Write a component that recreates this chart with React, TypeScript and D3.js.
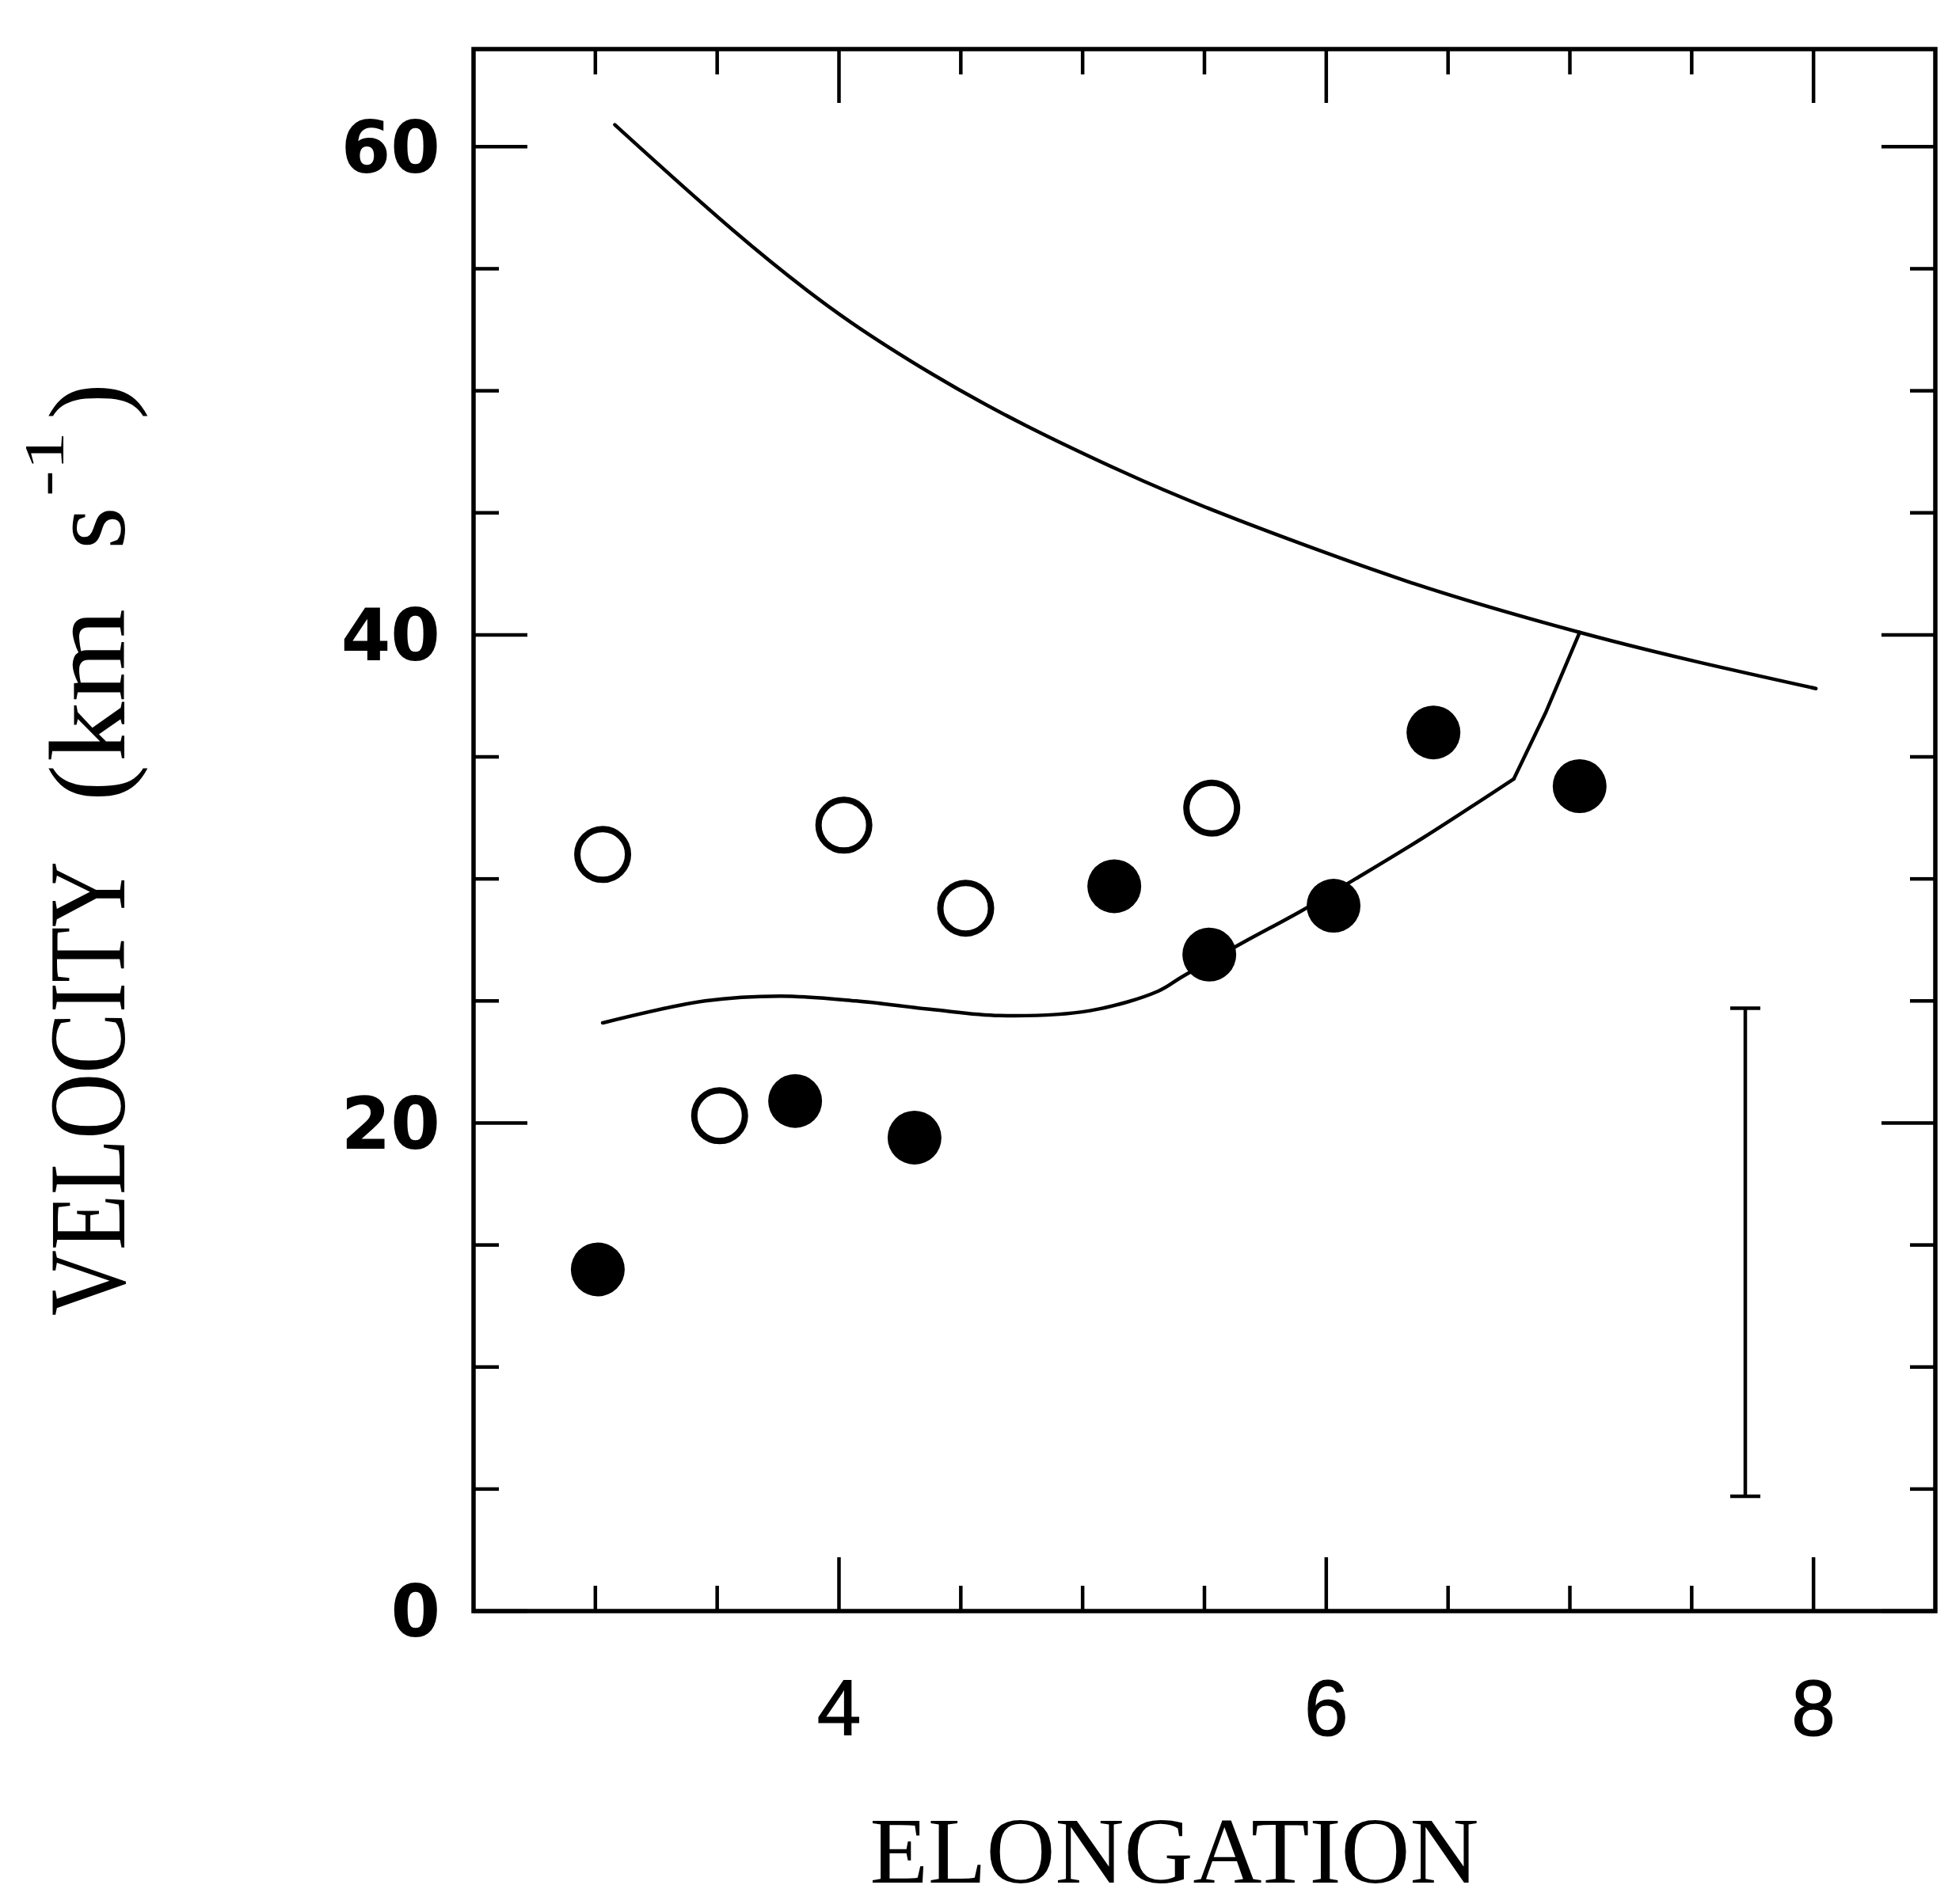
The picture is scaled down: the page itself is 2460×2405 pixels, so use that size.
import * as d3 from 'd3';

// Elongation vs. velocity: open / filled samples, two model curves, error bar.

const WIDTH = 2460;
const HEIGHT = 2405;
const FRAME = { left: 598, right: 2444, top: 62, bottom: 2035 };

const xDomain = [2.5, 8.5];
const yDomain = [0, 64];

const xMajorTicks = [4, 6, 8];
const xMinorTicks = [3, 3.5, 4.5, 5, 5.5, 6.5, 7, 7.5];
const yMajorTicks = [0, 20, 40, 60];
const yMinorTicks = [5, 10, 15, 25, 30, 35, 45, 50, 55];

const openX = [3.03, 4.02, 4.52, 5.53, 3.51];
const openY = [31.0, 32.2, 28.8, 32.9, 20.3];

const filledX = [3.01, 3.82, 4.31, 5.13, 5.52, 6.03, 6.44, 7.04];
const filledY = [14.0, 20.9, 19.4, 29.7, 26.9, 28.9, 36.0, 33.8];

const upperX = [3.08, 4.05, 4.38, 5.16, 5.96, 6.36, 7.04, 8.01];
const upperY = [60.9, 52.8, 50.7, 46.7, 43.5, 42.1, 40.1, 37.8];

const lowerX = [3.03, 3.45, 3.76, 4.07, 4.38, 4.66, 5.03, 5.31, 5.41, 5.66, 5.9, 6.12, 6.4, 6.77];
const lowerY = [24.1, 25.0, 25.2, 25.0, 24.65, 24.4, 24.6, 25.4, 26.0, 27.4, 28.7, 30.0, 31.7, 34.1];

const branchX = [6.77, 6.9, 7.04];
const branchY = [34.1, 36.8, 40.1];

const errX = 7.72;
const errLow = 4.7;
const errHigh = 24.7;

const MAJOR = 68;
const MINOR = 32;

const SERIF = "'Liberation Serif', serif";

export default function App() {
  const x = d3.scaleLinear().domain(xDomain).range([FRAME.left, FRAME.right]);
  const y = d3.scaleLinear().domain(yDomain).range([FRAME.bottom, FRAME.top]);

  const upperPath = d3
    .line<number>()
    .x((d) => x(d))
    .y((_, i) => y(upperY[i]))
    .curve(d3.curveMonotoneX)(upperX);
  const lowerPath = d3
    .line<number>()
    .x((d) => x(d))
    .y((_, i) => y(lowerY[i]))
    .curve(d3.curveCatmullRom.alpha(0.5))(lowerX);
  const branchPath = d3
    .line<number>()
    .x((d) => x(d))
    .y((_, i) => y(branchY[i]))(branchX);

  const x0 = x(xDomain[0]);
  const x1 = x(xDomain[1]);
  const y0 = y(yDomain[0]);
  const y1 = y(yDomain[1]);

  const xTicks = [
    ...xMajorTicks.map((v) => ({ v, len: MAJOR })),
    ...xMinorTicks.map((v) => ({ v, len: MINOR })),
  ];
  const yTicks = [
    ...yMajorTicks.map((v) => ({ v, len: MAJOR })),
    ...yMinorTicks.map((v) => ({ v, len: MINOR })),
  ];

  // rotated title: local x = -pageY, local y = pageX
  const titleBase = 157;

  return (
    <svg
      width={WIDTH}
      height={HEIGHT}
      style={{ position: 'absolute', left: 0, top: 0, background: '#fff' }}
    >
      <rect x={0} y={0} width={WIDTH} height={HEIGHT} fill="#fff" />

      {/* frame */}
      <rect
        x={x0}
        y={y1}
        width={x1 - x0}
        height={y0 - y1}
        fill="none"
        stroke="#000"
        strokeWidth={5.5}
      />

      {/* ticks, inward on all four sides */}
      <g stroke="#000" strokeWidth={4.5}>
        {xTicks.map((t) => (
          <g key={`x${t.v}`}>
            <line x1={x(t.v)} x2={x(t.v)} y1={y0} y2={y0 - t.len} />
            <line x1={x(t.v)} x2={x(t.v)} y1={y1} y2={y1 + t.len} />
          </g>
        ))}
        {yTicks.map((t) => (
          <g key={`y${t.v}`}>
            <line x1={x0} x2={x0 + t.len} y1={y(t.v)} y2={y(t.v)} />
            <line x1={x1} x2={x1 - t.len} y1={y(t.v)} y2={y(t.v)} />
          </g>
        ))}
      </g>

      {/* tick labels */}
      <g fontFamily="'DejaVu Sans', sans-serif" fontWeight="bold" fontSize={90} fill="#000">
        {yMajorTicks.map((v) => (
          <text key={v} x={x0 - 42} y={y(v)} dy="0.36em" textAnchor="end">
            {v}
          </text>
        ))}
      </g>
      <g
        fontFamily="'Liberation Sans', sans-serif"
        fontSize={100}
        fill="#000"
        stroke="#000"
        strokeWidth={1.2}
      >
        {xMajorTicks.map((v) => (
          <text key={v} x={x(v)} y={2192} textAnchor="middle">
            {v}
          </text>
        ))}
      </g>

      {/* axis titles */}
      <text
        x={1483}
        y={2378}
        textAnchor="middle"
        fontFamily={SERIF}
        fontSize={118}
        textLength={769}
        lengthAdjust="spacingAndGlyphs"
        fill="#000"
      >
        ELONGATION
      </text>
      <g transform="rotate(-90)" fontFamily={SERIF} fontSize={138} fill="#000">
        <text x={-1662} y={titleBase} textLength={574} lengthAdjust="spacingAndGlyphs">
          VELOCITY
        </text>
        <text x={-1012} y={titleBase}>
          (
        </text>
        <text x={-962} y={titleBase} textLength={193} lengthAdjust="spacingAndGlyphs">
          km
        </text>
        <text x={-694} y={titleBase}>
          s
        </text>
        <text
          x={-627}
          y={titleBase - 77}
          fontSize={72}
          textLength={82}
          lengthAdjust="spacingAndGlyphs"
        >
          -1
        </text>
        <text x={-530} y={titleBase}>
          )
        </text>
      </g>

      {/* model curves */}
      <g fill="none" stroke="#000" strokeWidth={4.5} strokeLinejoin="round" strokeLinecap="round">
        <path d={upperPath ?? ''} />
        <path d={lowerPath ?? ''} />
        <path d={branchPath ?? ''} />
      </g>

      {/* error bar */}
      <g stroke="#000" strokeWidth={4.5}>
        <line x1={x(errX)} x2={x(errX)} y1={y(errLow)} y2={y(errHigh)} />
        <line x1={x(errX) - 19} x2={x(errX) + 19} y1={y(errLow)} y2={y(errLow)} />
        <line x1={x(errX) - 19} x2={x(errX) + 19} y1={y(errHigh)} y2={y(errHigh)} />
      </g>

      {/* data points */}
      {openX.map((v, i) => (
        <circle
          key={`o${i}`}
          cx={x(v)}
          cy={y(openY[i])}
          r={32}
          fill="#fff"
          stroke="#000"
          strokeWidth={8}
        />
      ))}
      {filledX.map((v, i) => (
        <circle key={`f${i}`} cx={x(v)} cy={y(filledY[i])} r={34} fill="#000" />
      ))}
    </svg>
  );
}
